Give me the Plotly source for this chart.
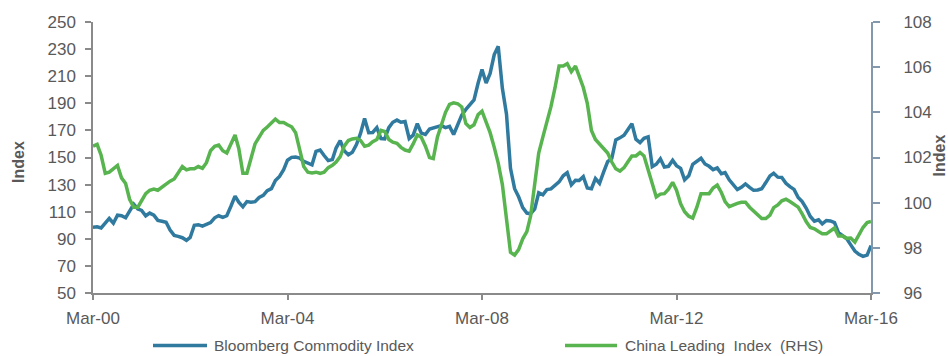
import pandas as pd
import plotly.graph_objects as go

# Monthly observations, Mar-2000 .. Mar-2016
start_month = "2000-03-01"
n_months = 193

bloomberg = [
    98.5, 98.8, 98.0, 101.5, 105.0, 101.5, 107.5, 107.0, 105.5, 110.5,
    115.5, 112.0, 111.0, 107.0, 109.0, 107.5, 103.6, 103.0, 102.2, 96.5,
    92.5, 91.8, 90.8, 88.9, 91.0, 100.0, 100.4, 99.3, 100.4, 102.0,
    105.5, 107.0, 105.8, 107.0, 114.0, 121.5, 117.0, 113.6, 117.5, 117.0,
    117.4, 120.5, 122.0, 125.5, 127.0, 133.0, 136.0, 141.0, 148.0, 150.1,
    150.3, 149.5, 147.2, 146.0, 144.6, 154.5, 155.5, 151.5, 147.7, 148.5,
    157.0, 162.4, 155.0, 152.0, 153.8, 159.5, 168.0, 178.8, 168.3, 168.5,
    172.0, 164.0, 163.8, 172.0, 176.0, 177.6, 176.0, 176.5, 164.0, 166.5,
    175.0, 168.0, 167.0, 171.0, 172.0, 172.5, 173.5, 172.0, 173.0, 167.0,
    173.5, 181.3, 185.5, 188.5, 192.5, 205.0, 215.0, 205.0, 212.0, 226.0,
    232.0, 201.0, 182.0, 142.0, 127.0, 121.0, 113.0, 109.0, 108.5, 112.0,
    124.0, 122.5, 126.3, 126.8, 129.5, 132.0, 136.5, 138.8, 129.8, 133.2,
    133.0, 135.9, 127.5, 127.0, 134.5, 131.0, 139.4, 147.0, 149.4, 163.0,
    164.5, 166.5, 170.5, 175.0, 163.5, 161.0, 164.2, 165.3, 143.2, 145.0,
    149.0, 143.0, 143.5, 148.0, 144.0, 142.0, 133.5, 136.5, 145.0, 147.0,
    149.4, 145.2, 143.5, 141.0, 142.3, 138.0, 138.9, 133.5, 130.0, 126.3,
    128.0, 130.5, 128.0, 125.8, 126.0, 127.0, 131.5, 136.4, 138.4, 135.5,
    135.3, 131.0, 128.5, 126.5, 120.5, 117.5, 112.5, 106.5, 103.0, 104.0,
    101.0, 103.5, 103.2, 102.0, 94.5, 92.0, 90.0, 85.5, 81.0, 78.5,
    77.0, 78.0, 85.0,
]

china_leading = [
    102.5, 102.58, 102.1, 101.3, 101.35, 101.5, 101.65, 101.1, 100.85, 100.15,
    99.8, 99.8, 100.1, 100.4, 100.55, 100.6, 100.55, 100.7, 100.85, 100.95,
    101.05, 101.3, 101.6, 101.45, 101.5, 101.5, 101.6, 101.52, 101.77, 102.3,
    102.5, 102.55, 102.3, 102.2, 102.6, 103.0, 102.4, 101.3, 101.3, 101.9,
    102.6, 102.9, 103.2, 103.35, 103.55, 103.7, 103.55, 103.55, 103.45, 103.36,
    103.1, 102.3, 101.6, 101.35, 101.32, 101.35, 101.3, 101.35, 101.55, 101.65,
    101.8, 102.04, 102.5, 102.75, 102.82, 102.85, 102.75, 102.5, 102.55, 102.7,
    102.8, 103.2, 103.15, 102.8, 102.68, 102.63, 102.45, 102.33, 102.28, 102.6,
    103.0, 102.9, 102.5, 102.0, 101.95, 102.9, 103.4, 104.0, 104.35, 104.42,
    104.38, 104.24, 103.5, 103.33, 103.45, 103.9, 104.05, 103.6, 103.1, 102.45,
    101.75, 100.8, 99.2, 97.8, 97.68, 97.92, 98.4, 98.72, 99.4, 100.8,
    102.2, 102.9, 103.5, 104.25, 105.1, 106.05, 106.05, 106.15, 105.8, 106.05,
    105.6, 105.1, 104.4, 103.2, 102.8, 102.6, 102.45, 102.2, 101.8, 101.5,
    101.4, 101.55, 101.8, 102.07, 102.07, 102.22, 102.07, 101.5, 100.9, 100.25,
    100.38, 100.4, 100.6, 100.9, 100.55, 99.95, 99.6, 99.4, 99.32, 99.8,
    100.4, 100.39, 100.4, 100.65, 100.78, 100.45, 100.05, 99.82, 99.91, 99.97,
    100.02, 100.02, 99.8, 99.62, 99.45, 99.3, 99.3, 99.45, 99.78, 99.9,
    100.08, 100.15, 100.05, 99.92, 99.8, 99.5, 99.15, 98.9, 98.84, 98.72,
    98.62, 98.62, 98.74, 98.88, 98.52, 98.52, 98.42, 98.43, 98.25, 98.55,
    98.9, 99.12, 99.17,
]

tick_dates = ["2000-03-01", "2004-03-01", "2008-03-01", "2012-03-01", "2016-03-01"]
tick_labels = ["Mar-00", "Mar-04", "Mar-08", "Mar-12", "Mar-16"]
left_ticks = list(range(50, 251, 20))
right_ticks = list(range(96, 109, 2))

series_names = ["Bloomberg Commodity Index", "China Leading  Index  (RHS)"]

dates = pd.date_range(start_month, periods=n_months, freq="MS")

BLUE = "#2f7a9e"
GREEN = "#58b44e"
GREY_TXT = "#595959"
AXIS_GREY = "#8a8a8a"
RIGHT_AXIS = "#8398ad"
FONT = "Liberation Sans, Arial, sans-serif"
TICK_SIZE = 17

fig = go.Figure()
fig.add_trace(go.Scatter(x=dates, y=bloomberg, mode="lines", name=series_names[0],
                         line=dict(color=BLUE, width=3.5), yaxis="y", showlegend=False))
fig.add_trace(go.Scatter(x=dates, y=china_leading, mode="lines", name=series_names[1],
                         line=dict(color=GREEN, width=3.5), yaxis="y2", showlegend=False))

L, R, T, B = 93, 77, 22, 63
W, H = 948, 356
pw, ph = W - L - R, H - T - B


def px(xp):
    return (xp - L) / pw


def py(yp):
    return (H - B - yp) / ph


fig.update_layout(
    width=W, height=H,
    margin=dict(l=L, r=R, t=T, b=B),
    paper_bgcolor="white", plot_bgcolor="white",
    font=dict(family=FONT, color=GREY_TXT, size=16),
    xaxis=dict(
        type="date", range=[tick_dates[0], tick_dates[-1]],
        tickvals=tick_dates, ticktext=tick_labels,
        showline=True, linecolor=AXIS_GREY, linewidth=1.5,
        ticks="outside", ticklen=5, tickcolor=AXIS_GREY, tickwidth=1.5,
        showgrid=False, zeroline=False, ticklabelstandoff=4,
        tickfont=dict(size=TICK_SIZE, color=GREY_TXT),
    ),
    yaxis=dict(
        range=[50, 250], tickvals=left_ticks,
        showline=True, linecolor=AXIS_GREY, linewidth=1.5,
        ticks="outside", ticklen=6, tickcolor=AXIS_GREY, tickwidth=1.5,
        showgrid=False, zeroline=False, ticklabelstandoff=6,
        tickfont=dict(size=TICK_SIZE, color=GREY_TXT),
    ),
    yaxis2=dict(
        range=[96, 108], tickvals=right_ticks, overlaying="y", side="right",
        showline=True, linecolor=RIGHT_AXIS, linewidth=2,
        ticks="outside", ticklen=7, tickcolor=RIGHT_AXIS, tickwidth=1.5,
        showgrid=False, zeroline=False, ticklabelstandoff=20,
        tickfont=dict(size=TICK_SIZE, color=GREY_TXT),
    ),
)

annotations = [
    dict(text="<b>Index</b>", x=px(18.5), y=py(162.5), xref="paper", yref="paper",
         textangle=-90, showarrow=False, xanchor="center", yanchor="middle",
         font=dict(size=16, color=GREY_TXT, family=FONT)),
    dict(text="<b>Index</b>", x=px(938.5), y=py(156), xref="paper", yref="paper",
         textangle=-90, showarrow=False, xanchor="center", yanchor="middle",
         font=dict(size=16, color=GREY_TXT, family=FONT)),
    dict(text=series_names[0], x=px(212), y=py(345.5), xref="paper", yref="paper",
         showarrow=False, xanchor="left", yanchor="middle",
         font=dict(size=15.5, color=GREY_TXT, family=FONT)),
    dict(text=series_names[1].replace("  ", "&nbsp; "), x=px(623), y=py(345.5), xref="paper", yref="paper",
         showarrow=False, xanchor="left", yanchor="middle",
         font=dict(size=15.5, color=GREY_TXT, family=FONT)),
]
shapes = [
    dict(type="line", xref="paper", yref="paper", x0=px(153), x1=px(207), y0=py(345.5), y1=py(345.5),
         line=dict(color=BLUE, width=3.5)),
    dict(type="line", xref="paper", yref="paper", x0=px(565), x1=px(617), y0=py(345.5), y1=py(345.5),
         line=dict(color=GREEN, width=3.5)),
]
fig.update_layout(annotations=annotations, shapes=shapes)

fig.write_html("out.html")
